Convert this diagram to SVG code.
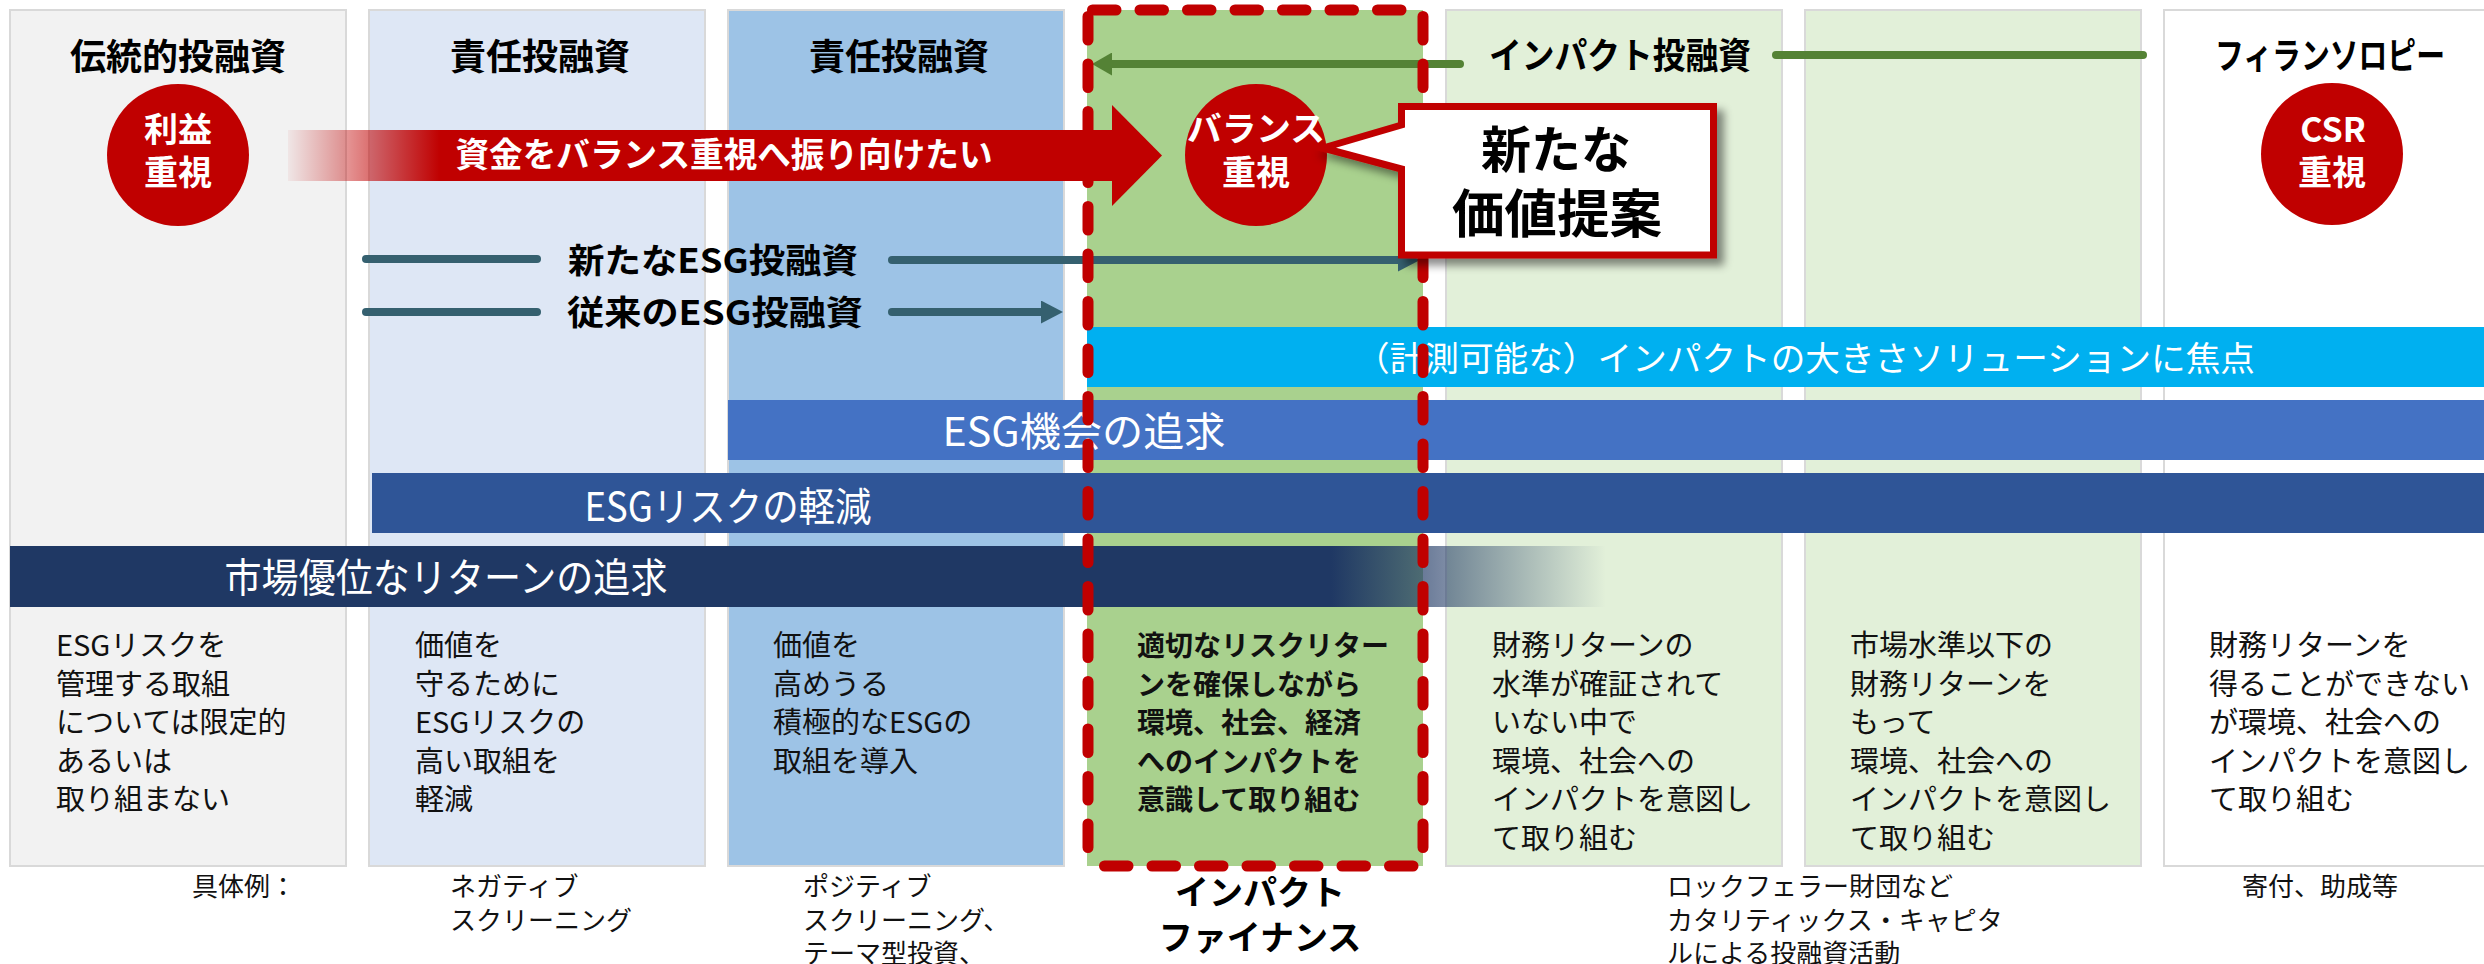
<svg xmlns="http://www.w3.org/2000/svg" width="2484" height="964" viewBox="0 0 2484 964">
<defs>
<style>
text{font-family:"Noto Sans CJK JP","Noto Sans",sans-serif}
.col{stroke:#d9d9d9;stroke-width:2}
.hdr{font-weight:700;font-size:36px;fill:#000;text-anchor:middle}
.cir{fill:#c00000}
.ctx{font-weight:700;font-size:34px;fill:#fff;text-anchor:middle}
.bar{font-size:40px;fill:#fff;text-anchor:middle}
.desc{font-size:29px;fill:#111}
.descb{font-size:28px;fill:#111;font-weight:700}
.ex{font-size:26px;fill:#111}
.esg{font-weight:700;font-size:34px;fill:#000;text-anchor:middle}
.teal{stroke:#35606f;stroke-width:8;stroke-linecap:round;fill:none}
.grn{stroke:#548235;stroke-width:8;stroke-linecap:round;fill:none}
.dash{stroke:#c00000;stroke-width:11;stroke-linecap:round;fill:none;stroke-dasharray:23.5 24}
</style>
<marker id="ahTeal" viewBox="0 0 22 23" refX="0" refY="11.5" markerWidth="22" markerHeight="23" markerUnits="userSpaceOnUse" orient="auto"><path d="M0 0L22 11.5L0 23Z" fill="#35606f"/></marker>
<marker id="ahGrn" viewBox="0 0 20 23" refX="0" refY="11.5" markerWidth="20" markerHeight="23" markerUnits="userSpaceOnUse" orient="auto"><path d="M0 0L20 11.5L0 23Z" fill="#548235"/></marker>
<linearGradient id="gRed" gradientUnits="userSpaceOnUse" x1="288" y1="0" x2="440" y2="0"><stop offset="0" stop-color="#c00000" stop-opacity="0.05"/><stop offset="1" stop-color="#c00000" stop-opacity="1"/></linearGradient>
<linearGradient id="gNavy" gradientUnits="userSpaceOnUse" x1="1331" y1="0" x2="1606" y2="0"><stop offset="0" stop-color="#1f3864" stop-opacity="1"/><stop offset="1" stop-color="#1f3864" stop-opacity="0"/></linearGradient>
<filter id="shadow" x="-10%" y="-10%" width="130%" height="130%"><feDropShadow dx="7" dy="7" stdDeviation="4" flood-color="#000" flood-opacity="0.45"/></filter>
</defs>
<rect width="2484" height="964" fill="#fff"/>

<g id="columns">
<g id="col-traditional"><rect class="col" x="10" y="10" width="336" height="856" fill="#f2f2f2"/><text class="hdr" x="178" y="70">伝統的投融資</text></g>
<g id="col-responsible1"><rect class="col" x="369" y="10" width="336" height="856" fill="#dee7f5"/><text class="hdr" x="540" y="70">責任投融資</text></g>
<g id="col-responsible2"><rect class="col" x="728" y="10" width="336" height="856" fill="#9dc3e6"/><text class="hdr" x="899" y="70">責任投融資</text></g>
<g id="col-impactfinance"><rect x="1087" y="10" width="336" height="856" fill="#a9d18e"/></g>
<g id="col-impact1"><rect class="col" x="1446" y="10" width="336" height="856" fill="#e2f0d9"/><text class="hdr" x="1620" y="69" textLength="262" lengthAdjust="spacingAndGlyphs">インパクト投融資</text></g>
<g id="col-impact2"><rect class="col" x="1805" y="10" width="336" height="856" fill="#e2f0d9"/></g>
<g id="col-philanthropy"><rect class="col" x="2164" y="10" width="340" height="856" fill="#ffffff"/><text class="hdr" x="2330" y="69" textLength="230" lengthAdjust="spacingAndGlyphs">フィランソロピー</text></g>
</g>

<g id="bars">
<g id="bar-impact"><rect x="1087" y="327" width="1397" height="60" fill="#00b0f0"/><text x="1805" y="371" font-size="34" fill="#fff" text-anchor="middle" textLength="900" lengthAdjust="spacingAndGlyphs">（計測可能な）インパクトの大きさソリューションに焦点</text></g>
<g id="bar-opportunity"><rect x="728" y="400" width="1756" height="60" fill="#4472c4"/><text class="bar" x="1084" y="446" textLength="283" lengthAdjust="spacingAndGlyphs">ESG機会の追求</text></g>
<g id="bar-risk"><rect x="372" y="473" width="2112" height="60" fill="#2f5597"/><text class="bar" x="728" y="521" textLength="287" lengthAdjust="spacingAndGlyphs">ESGリスクの軽減</text></g>
<g id="bar-return"><rect x="10" y="546" width="1321" height="61" fill="#1f3864"/><rect x="1331" y="546" width="275" height="61" fill="url(#gNavy)"/><text class="bar" x="446" y="592" textLength="443" lengthAdjust="spacingAndGlyphs">市場優位なリターンの追求</text></g>
</g>

<g id="connectors">
<line class="teal" x1="366" y1="259" x2="537" y2="259"/>
<line class="teal" x1="366" y1="312" x2="537" y2="312"/>
<line class="teal" x1="892" y1="260" x2="1398" y2="260" marker-end="url(#ahTeal)"/>
<line class="teal" x1="892" y1="312" x2="1041" y2="312" marker-end="url(#ahTeal)"/>
<line class="grn" x1="1460" y1="64" x2="1112" y2="64" marker-end="url(#ahGrn)"/>
<line class="grn" x1="1776" y1="55" x2="2143" y2="55"/>
</g>

<g id="label-new-esg"><text class="esg" x="713" y="273" textLength="290" lengthAdjust="spacingAndGlyphs">新たなESG投融資</text></g>
<g id="label-old-esg"><text class="esg" x="715" y="325" textLength="296" lengthAdjust="spacingAndGlyphs">従来のESG投融資</text></g>

<g id="node-profit"><circle class="cir" cx="178" cy="155" r="71"/><text class="ctx" x="178" y="142">利益</text><text class="ctx" x="178" y="185">重視</text></g>

<g id="big-arrow">
<rect x="288" y="130" width="826" height="51" fill="url(#gRed)"/>
<path d="M1112 105L1162 155.5L1112 206Z" fill="#c00000"/>
<text x="724" y="167" font-size="34" font-weight="700" fill="#fff" text-anchor="middle" textLength="537" lengthAdjust="spacingAndGlyphs">資金をバランス重視へ振り向けたい</text>
</g>

<g id="node-balance"><circle class="cir" cx="1256" cy="155" r="71"/><text class="ctx" x="1256" y="141" textLength="138" lengthAdjust="spacingAndGlyphs">バランス</text><text class="ctx" x="1256" y="185">重視</text></g>
<g id="node-csr"><circle class="cir" cx="2332" cy="154" r="71"/><text class="ctx" x="2333" y="142">CSR</text><text class="ctx" x="2332" y="185">重視</text></g>

<g id="impact-finance-frame">
<line class="dash" x1="1088" y1="10" x2="1423" y2="10" stroke-dashoffset="43"/>
<line class="dash" x1="1088" y1="10" x2="1088" y2="866" stroke-dashoffset="41"/>
<line class="dash" x1="1423" y1="10" x2="1423" y2="866" stroke-dashoffset="41"/>
<line class="dash" x1="1088" y1="866" x2="1423" y2="866" stroke-dashoffset="31"/>
</g>

<g id="callout" filter="url(#shadow)">
<path d="M1401.5 106.5H1713.5V255H1401.5V169L1323 148L1401.5 125Z" fill="#fff" stroke="#c00000" stroke-width="7" stroke-linejoin="miter"/>
</g>
<g id="callout-text">
<text x="1556" y="168" font-size="50" font-weight="700" fill="#000" text-anchor="middle">新たな</text>
<text x="1557" y="233" font-size="52" font-weight="700" fill="#000" text-anchor="middle" textLength="210" lengthAdjust="spacingAndGlyphs">価値提案</text>
</g>

<g id="descriptions">
<text class="desc" x="56" y="656"><tspan x="56">ESGリスクを</tspan><tspan x="56" dy="38.5">管理する取組</tspan><tspan x="56" dy="38.5">については限定的</tspan><tspan x="56" dy="38.5">あるいは</tspan><tspan x="56" dy="38.5">取り組まない</tspan></text>
<text class="desc" x="415" y="656"><tspan x="415">価値を</tspan><tspan x="415" dy="38.5">守るために</tspan><tspan x="415" dy="38.5">ESGリスクの</tspan><tspan x="415" dy="38.5">高い取組を</tspan><tspan x="415" dy="38.5">軽減</tspan></text>
<text class="desc" x="773" y="656"><tspan x="773">価値を</tspan><tspan x="773" dy="38.5">高めうる</tspan><tspan x="773" dy="38.5">積極的なESGの</tspan><tspan x="773" dy="38.5">取組を導入</tspan></text>
<text class="descb" x="1137" y="656"><tspan x="1137">適切なリスクリター</tspan><tspan x="1137" dy="38.5">ンを確保しながら</tspan><tspan x="1137" dy="38.5">環境、社会、経済</tspan><tspan x="1137" dy="38.5">へのインパクトを</tspan><tspan x="1137" dy="38.5">意識して取り組む</tspan></text>
<text class="desc" x="1492" y="656"><tspan x="1492">財務リターンの</tspan><tspan x="1492" dy="38.5">水準が確証されて</tspan><tspan x="1492" dy="38.5">いない中で</tspan><tspan x="1492" dy="38.5">環境、社会への</tspan><tspan x="1492" dy="38.5">インパクトを意図し</tspan><tspan x="1492" dy="38.5">て取り組む</tspan></text>
<text class="desc" x="1850" y="656"><tspan x="1850">市場水準以下の</tspan><tspan x="1850" dy="38.5">財務リターンを</tspan><tspan x="1850" dy="38.5">もって</tspan><tspan x="1850" dy="38.5">環境、社会への</tspan><tspan x="1850" dy="38.5">インパクトを意図し</tspan><tspan x="1850" dy="38.5">て取り組む</tspan></text>
<text class="desc" x="2209" y="656"><tspan x="2209">財務リターンを</tspan><tspan x="2209" dy="38.5">得ることができない</tspan><tspan x="2209" dy="38.5">が環境、社会への</tspan><tspan x="2209" dy="38.5">インパクトを意図し</tspan><tspan x="2209" dy="38.5">て取り組む</tspan></text>
</g>

<g id="examples">
<text class="ex" x="192" y="896">具体例：</text>
<text class="ex" x="450" y="896"><tspan x="450">ネガティブ</tspan><tspan x="450" dy="33.5">スクリーニング</tspan></text>
<text class="ex" x="803" y="896"><tspan x="803">ポジティブ</tspan><tspan x="803" dy="33.5">スクリーニング、</tspan><tspan x="803" dy="33.5">テーマ型投資、</tspan></text>
<text x="1260" y="905" font-size="34" font-weight="700" fill="#000" text-anchor="middle"><tspan x="1260">インパクト</tspan><tspan x="1260" dy="45">ファイナンス</tspan></text>
<text class="ex" x="1667" y="896"><tspan x="1667">ロックフェラー財団など</tspan><tspan x="1667" dy="33.5">カタリティックス・キャピタ</tspan><tspan x="1667" dy="33.5">ルによる投融資活動</tspan></text>
<text class="ex" x="2242" y="896">寄付、助成等</text>
</g>
</svg>
